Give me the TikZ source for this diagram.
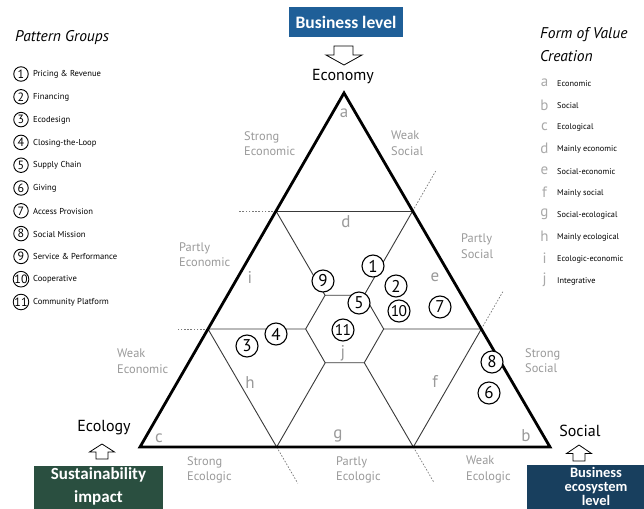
\documentclass[tikz,border=0pt]{standalone}
\usepackage{fontspec}
\setmainfont{PT Sans}
\newfontfamily\boxfont{Carlito}
\usetikzlibrary{calc}

\definecolor{zonegray}{HTML}{9A9A9A}
\definecolor{gridgray}{HTML}{3A3A3A}
\definecolor{dotgray}{HTML}{7A7A7A}
\definecolor{bizblue}{HTML}{1F5F98}
\definecolor{ecogreen}{HTML}{2A4F40}
\definecolor{ecosysnavy}{HTML}{183F5E}

\newcommand{\fs}[2]{\fontsize{#1}{#2}\selectfont}

\begin{document}
\begin{tikzpicture}[x=1pt,y=-1pt,
  outer/.style={line width=2.8pt, line join=miter, line cap=round},
  grid/.style={line width=0.9pt, draw=gridgray},
  ext/.style={line width=0.7pt, draw=dotgray, dash pattern=on 1.6pt off 1.6pt},
  pin/.style={circle, draw, line width=1.1pt, fill=white, minimum size=22pt,
    inner sep=0pt, font=\fs{17}{17}},
  lpin/.style={circle, draw, line width=0.9pt, minimum size=14.5pt,
    inner sep=0pt, font=\fs{12}{12}},
  ltext/.style={anchor=west, inner sep=0pt, font=\fs{8.6}{10}},
  rtext/.style={anchor=west, inner sep=0pt, font=\fs{8.3}{10}},
  zone/.style={text=zonegray, inner sep=0pt, font=\fs{17}{17}},
  rzone/.style={text=zonegray!85, inner sep=0pt, font=\fs{15}{15}},
  side/.style={text=zonegray, anchor=west, align=left, inner sep=0pt, font=\fs{12.4}{15.5}},
  corner/.style={inner sep=0pt, font=\fs{16}{16}},
  title/.style={anchor=west, align=left, inner sep=0pt, font=\fs{15.5}{23}\itshape},
  boxtext/.style={text=white, align=center, inner sep=0pt, font=\boxfont\bfseries},
  hollow/.style={draw, line width=0.8pt, fill=white, line join=miter}
]
\clip (0,0) rectangle (644,508);
\fill[white] (0,0) rectangle (644,508);

% ---------- triangle geometry ----------
\coordinate (A) at (344,93);
\coordinate (L) at (140,447);
\coordinate (R) at (550,447);
\coordinate (C) at ($1/3*(A)+1/3*(L)+1/3*(R)$);
\coordinate (PL1) at ($(A)!1/3!(L)$);
\coordinate (PL2) at ($(A)!2/3!(L)$);
\coordinate (PR1) at ($(A)!1/3!(R)$);
\coordinate (PR2) at ($(A)!2/3!(R)$);
\coordinate (PB1) at ($(L)!1/3!(R)$);
\coordinate (PB2) at ($(L)!2/3!(R)$);
% hexagon corners on the lines from the centre to the third points
\foreach \p in {PL1,PR1,PR2,PB2,PB1,PL2}
  \coordinate (H\p) at ($(C)!39pt!(\p)$);

% free ends of the dotted extensions
\coordinate (XL1) at ($(PL1)!38pt!180:(PR1)$);
\coordinate (XL2) at ($(PL2)!31pt!180:(PR2)$);
\coordinate (XR1) at ($(PR1)!46pt!180:(PB1)$);
\coordinate (XR2) at ($(PR2)!43pt!180:(PB2)$);
\coordinate (XB1) at ($(PB1)!42pt!180:(PL2)$);
\coordinate (XB2) at ($(PB2)!41pt!180:(PL1)$);

% dotted extensions
\foreach \a/\b in {PL1/XL1,PL2/XL2,PR1/XR1,PR2/XR2,PB1/XB1,PB2/XB2}
  \draw[ext] (\a) -- (\b);

% inner division lines
\draw[grid] (PL1) -- (PR1);
\foreach \p in {PL1,PR1,PR2,PB2,PB1,PL2}
  \draw[grid] (\p) -- (H\p);
\draw[grid] (PL2) -- (PB1);
\draw[grid] (PR2) -- (PB2);
\draw[grid] (HPL1) -- (HPR1) -- (HPR2) -- (HPB2) -- (HPB1) -- (HPL2) -- cycle;

% outer triangle
\draw[outer] (A) -- (L) -- (R) -- cycle;

% ---------- zone letters ----------
\node[zone] (za) at (344,113) {a};
\node[zone] (zd) at (346,222) {d};
\node[zone] (zi) at (250,277) {i};
\node[zone] (ze) at (435,277) {e};
\node[zone] (zj) at (343,353) {j};
\node[zone] (zh) at (250,383) {h};
\node[zone] (zf) at (435,381) {f};
\node[zone] (zc) at (159,438) {c};
\node[zone] (zg) at (338,436) {g};
\node[zone] (zb) at (526,436) {b};

% ---------- side labels ----------
\node[side] (s1) at (244,143.5) {Strong\\Economic};
\node[side] (s2) at (391,143) {Weak\\Social};
\node[side] (s3) at (179,254.5) {Partly\\Economic};
\node[side] (s4) at (461,246) {Partly\\Social};
\node[side] (s5) at (117,361) {Weak\\Economic};
\node[side] (s6) at (525,360.5) {Strong\\Social};
\node[side] (s7) at (187,470) {Strong\\Ecologic};
\node[side] (s8) at (336,470) {Partly\\Ecologic};
\node[side] (s9) at (466,469.5) {Weak\\Ecologic};

% ---------- pattern group markers ----------
\node[pin] (n1) at (373,266) {1};
\node[pin] (n2) at (396,286) {2};
\node[pin] (n10) at (399,311) {\fs{15.5}{15}1\kern-0.6pt0};
\node[pin] (n7) at (440,307) {7};
\node[pin] (n5) at (359,303) {5};
\node[pin] (n9) at (323,281) {9};
\node[pin] (n11) at (343,330) {\fs{15.5}{15}1\kern-0.6pt1};
\node[pin] (n4) at (276,334) {4};
\node[pin] (n3) at (247,346) {3};
\node[pin] (n8) at (492,362) {8};
\node[pin] (n6) at (489,393) {6};

% ---------- corner labels, boxes, arrows ----------
\node[corner] (eco) at (343,77) {Economy};
\node[corner] (ecl) at (104,428) {Ecology};
\node[corner] (soc) at (580,431) {Social};

\node[fill=bizblue, minimum width=114pt, minimum height=30pt, inner sep=0pt] (biz) at (346,22) {};
\node[boxtext, font=\boxfont\bfseries\fs{17.5}{17}] (biztxt) at (346,22.5) {Business level};

\node[fill=ecogreen, minimum width=129pt, minimum height=50pt, inner sep=0pt, anchor=north] (sus) at (98.5,466) {};
\node[boxtext, font=\boxfont\bfseries\fs{17}{23}] (sustxt) at (98.5,486) {Sustainability\\impact};

\node[fill=ecosysnavy, minimum width=125pt, minimum height=50pt, inner sep=0pt, anchor=north west] (ecs) at (527,465) {};
\node[boxtext, font=\boxfont\bfseries\fs{14.5}{14}] (ecstxt) at (596,486) {Business\\ecosystem\\level};

% hollow block arrows
\draw[hollow] (334,46) -- (353,46) -- (353,55) -- (362,55) -- (344,65) -- (326,55) -- (334,55) -- cycle;
\draw[hollow] (102,444) -- (114.5,452) -- (108,452) -- (108,459) -- (96,459) -- (96,452) -- (89.5,452) -- cycle;
\draw[hollow] (579,445) -- (591.5,453.5) -- (585,453.5) -- (585,461) -- (573,461) -- (573,453.5) -- (566.5,453.5) -- cycle;

% ---------- legend: pattern groups ----------
\node[title] (pgt) at (15,38) {Pattern Groups};
\foreach \k/\t [count=\i from 0] in {1/Pricing \& Revenue, 2/Financing, 3/Ecodesign,
    4/Closing-the-Loop, 5/Supply Chain, 6/Giving, 7/Access Provision,
    8/Social Mission, 9/Service \& Performance, 10/Cooperative, 11/Community Platform} {
  \node[lpin] (g\k) at (21,{74+22.8*\i}) {\k};
  \node[ltext] (t\k) at (33,{74.5+22.8*\i}) {\t};
}

% ---------- legend: form of value creation ----------
\node[title] (fvt) at (540,44.5) {Form of Value\\Creation};
\foreach \l/\t [count=\i from 0] in {a/Economic, b/Social, c/Ecological,
    d/Mainly economic, e/Social-economic, f/Mainly social, g/Social-ecological,
    h/Mainly ecological, i/Ecologic-economic, j/Integrative} {
  \node[rzone] (f\l) at (544.5,{83+21.9*\i}) {\l};
  \node[rtext] (r\l) at (557,{84+21.9*\i}) {\t};
}
\end{tikzpicture}
\end{document}
